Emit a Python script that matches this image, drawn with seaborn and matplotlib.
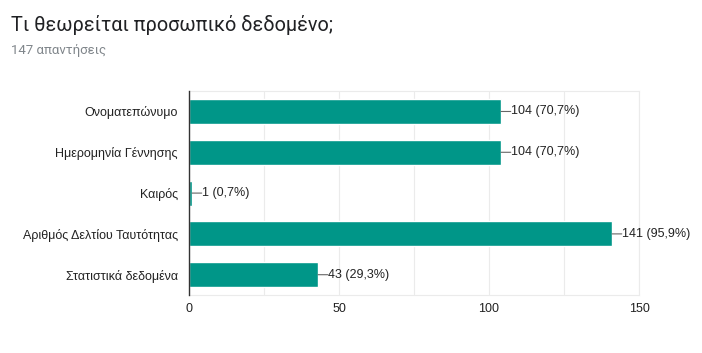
import pandas as pd
import seaborn as sns
import matplotlib.pyplot as plt
import matplotlib.ticker as mticker

categories = ["Ονοματεπώνυμο", "Ημερομηνία Γέννησης", "Καιρός",
              "Αριθμός Δελτίου Ταυτότητας", "Στατιστικά δεδομένα"]
counts = [104, 104, 1, 141, 43]
percents = ["70,7%", "70,7%", "0,7%", "95,9%", "29,3%"]
total = 147

df = pd.DataFrame({"cat": categories, "count": counts, "pct": percents})

sns.set_theme(style="white")
plt.rcParams['font.family'] = ['Liberation Sans', 'DejaVu Sans']

fig = plt.figure(figsize=(7.02, 3.53), dpi=100)
ax = fig.add_axes([0.2692, 0.164, 0.6411, 0.578])

sns.barplot(data=df, x="count", y="cat", color="#009688", saturation=1,
            width=0.61, ax=ax, zorder=3)

ax.set_xlim(0, 150)
ax.set_ylim(4.5, -0.5)
ax.xaxis.set_major_locator(mticker.MultipleLocator(50))
ax.xaxis.set_minor_locator(mticker.MultipleLocator(25))
ax.grid(axis="x", which="both", color="#ebebeb", linewidth=0.8, zorder=0)
ax.set_axisbelow(True)
ax.set_xlabel("")
ax.set_ylabel("")
ax.tick_params(axis="both", which="both", length=0, labelsize=9, colors="#222222")
ax.tick_params(axis="y", pad=8)
ax.tick_params(axis="x", pad=6)

for side in ["top", "right", "bottom"]:
    ax.spines[side].set_color("#ebebeb")
    ax.spines[side].set_linewidth(0.8)
ax.spines["left"].set_color("#333333")
ax.spines["left"].set_linewidth(1.0)
ax.spines["left"].set_zorder(5)

for i, row in df.iterrows():
    ax.annotate(f"{row['count']} ({row['pct']})", xy=(row["count"], i),
                xytext=(7, 0), textcoords="offset points",
                va="center", ha="left", fontsize=9, color="#222222",
                arrowprops=dict(arrowstyle="-", color="#666666", lw=0.8,
                                patchA=None, relpos=(0, 0.5),
                                shrinkA=0, shrinkB=0))

fig.text(0.0157, 0.928, "Τι θεωρείται προσωπικό δεδομένο;", fontsize=14.3,
         color="#202124", va="center", ha="left",
         family=['Roboto', 'DejaVu Sans'])
fig.text(0.0157, 0.858, f"{total} απαντήσεις", fontsize=9.5,
         color="#80868b", va="center", ha="left",
         family=['Roboto', 'DejaVu Sans'])

fig.savefig("out.png", dpi=100)
